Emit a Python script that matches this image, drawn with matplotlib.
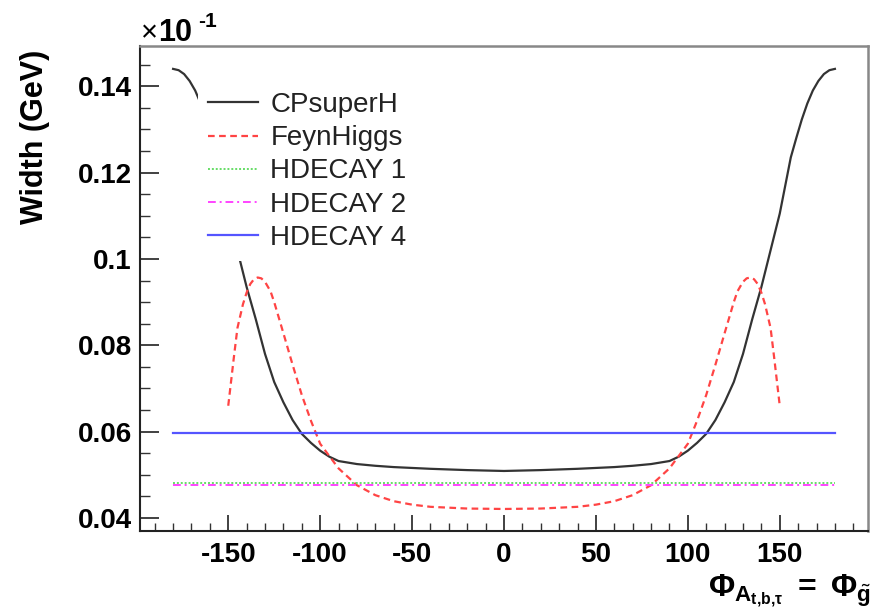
import numpy as np
import matplotlib.pyplot as plt
from matplotlib.ticker import MultipleLocator

plt.rcParams['font.family'] = ['Liberation Sans', 'DejaVu Sans']
plt.rcParams['mathtext.fontset'] = 'custom'
plt.rcParams['mathtext.rm'] = 'Liberation Sans'
plt.rcParams['mathtext.bf'] = 'Liberation Sans:bold'
plt.rcParams['mathtext.it'] = 'Liberation Sans:italic'
plt.rcParams['axes.unicode_minus'] = False

# phase (degrees) and widths (GeV)
phi_cp = [-180, -177, -174, -171, -168, -165, -162, -159, -156, -153, -150, -145, -140, -135,
          -130, -125, -120, -115, -110, -105, -100, -95, -90, -80, -70, -60, -40, -20, 0,
          20, 40, 60, 70, 80, 90, 95, 100, 105, 110, 115, 120, 125, 130, 135, 140, 145,
          150, 153, 156, 159, 162, 165, 168, 171, 174, 177, 180]
width_cp = [0.1440, 0.1437, 0.1428, 0.1412, 0.1390, 0.1360, 0.1323, 0.1280, 0.1235, 0.1170,
            0.1105, 0.1020, 0.0935, 0.0860, 0.0780, 0.0715, 0.0668, 0.0627, 0.0595, 0.0574,
            0.0556, 0.0542, 0.0532, 0.0525, 0.0521, 0.0518, 0.0514, 0.0511, 0.0509,
            0.0511, 0.0514, 0.0518, 0.0521, 0.0525, 0.0532, 0.0542, 0.0556, 0.0574, 0.0595,
            0.0627, 0.0668, 0.0715, 0.0780, 0.0860, 0.0935, 0.1020, 0.1105, 0.1170, 0.1235,
            0.1280, 0.1323, 0.1360, 0.1390, 0.1412, 0.1428, 0.1437, 0.1440]

phi_fh = [-150, -147, -145, -142, -140, -138, -136, -134, -132, -130, -127, -125, -120, -115,
          -110, -105, -100, -90, -80, -70, -60, -50, -40, -20, 0,
          20, 40, 50, 60, 70, 80, 90, 100, 105, 110, 115, 120, 125, 127, 130, 132, 134,
          136, 138, 140, 142, 145, 147, 150]
width_fh = [0.0660, 0.0770, 0.0840, 0.0895, 0.0922, 0.0942, 0.0953, 0.0957, 0.0955, 0.0947,
            0.0925, 0.0900, 0.0828, 0.0755, 0.0685, 0.0625, 0.0572, 0.0515, 0.0476, 0.0453,
            0.0439, 0.0431, 0.0426, 0.0422, 0.0421,
            0.0422, 0.0426, 0.0431, 0.0439, 0.0453, 0.0476, 0.0515, 0.0572, 0.0625, 0.0685,
            0.0755, 0.0828, 0.0900, 0.0925, 0.0947, 0.0955, 0.0957, 0.0953, 0.0942, 0.0922,
            0.0895, 0.0840, 0.0770, 0.0660]

phi_hd = [-180, 180]
width_hd1 = [0.0481, 0.0481]
width_hd2 = [0.0477, 0.0477]
width_hd4 = [0.0597, 0.0597]

fig = plt.figure(figsize=(8.79, 6.15), dpi=100)
ax = fig.add_axes([140/879, 1-531/615, 728/879, 485/615])

l1, = ax.plot(phi_cp, width_cp, color='#333333', lw=1.6, label='CPsuperH')
l2, = ax.plot(phi_fh, width_fh, color='#ff4444', lw=1.6, ls=(0, (3, 2)), label='FeynHiggs')
l3, = ax.plot(phi_hd, width_hd1, color='#66dd66', lw=1.4, ls=(0, (1, 1)), label='HDECAY 1')
l4, = ax.plot(phi_hd, width_hd2, color='#ff44ff', lw=1.4, ls=(0, (4, 2, 1, 2)), label='HDECAY 2')
l5, = ax.plot(phi_hd, width_hd4, color='#5555ff', lw=1.6, label='HDECAY 4')

ax.set_xlim(-198, 198)
ax.set_ylim(0.037, 0.1493)
ax.xaxis.set_major_locator(MultipleLocator(50))
ax.xaxis.set_minor_locator(MultipleLocator(10))
ax.yaxis.set_minor_locator(MultipleLocator(0.005))
ax.set_yticks([0.04, 0.06, 0.08, 0.1, 0.12, 0.14])
ax.set_yticklabels(['0.04', '0.06', '0.08', '0.1', '0.12', '0.14'])

ax.tick_params(which='both', direction='in', top=False, right=False, color='#333333')
ax.tick_params(axis='y', which='major', length=14, width=1.3, pad=6, labelsize=20)
ax.tick_params(axis='y', which='minor', length=7, width=1.0)
ax.tick_params(axis='x', which='major', length=11.5, width=1.3, pad=8, labelsize=20)
ax.tick_params(axis='x', which='minor', length=6, width=1.0)
for lab in ax.get_xticklabels() + ax.get_yticklabels():
    lab.set_fontweight('bold')

for s in ['left', 'bottom']:
    ax.spines[s].set_color('#222222')
    ax.spines[s].set_linewidth(1.5)
for s in ['top', 'right']:
    ax.spines[s].set_color('#888888')
    ax.spines[s].set_linewidth(1.8)

fig.text(35/879, 1-50/615, 'Width (GeV)', rotation=90, ha='center', va='top',
         fontsize=22, fontweight='bold')
fig.text(141/879, 1-41/615, '×', ha='left', va='baseline', fontsize=21)
fig.text(158/879, 1-41/615, '10', ha='left', va='baseline', fontsize=22, fontweight='bold')
fig.text(198/879, 1-27/615, '-1', ha='left', va='baseline', fontsize=15, fontweight='bold')
fig.text(871/879, 1-597/615,
         r'$\mathbf{\Phi}_{\mathbf{A}_{\mathbf{t{,}b{,}\tau}}}\ \mathbf{=}\ \mathbf{\Phi}_{\tilde{\mathbf{g}}}$',
         ha='right', va='baseline', fontsize=23)

# opaque white legend box hides the CPsuperH curve behind it, as in the original
leg = ax.legend(handles=[l1, l2, l3, l4, l5], loc='upper left',
                bbox_to_anchor=(198/879, 1-82/615), bbox_transform=fig.transFigure,
                frameon=True, fancybox=False, facecolor='white', edgecolor='none',
                framealpha=1.0, fontsize=20, handlelength=1.8, handletextpad=0.45,
                labelspacing=0.26, borderpad=0.36, borderaxespad=0, labelcolor='#222222')

fig.savefig('out.png', dpi=100)
